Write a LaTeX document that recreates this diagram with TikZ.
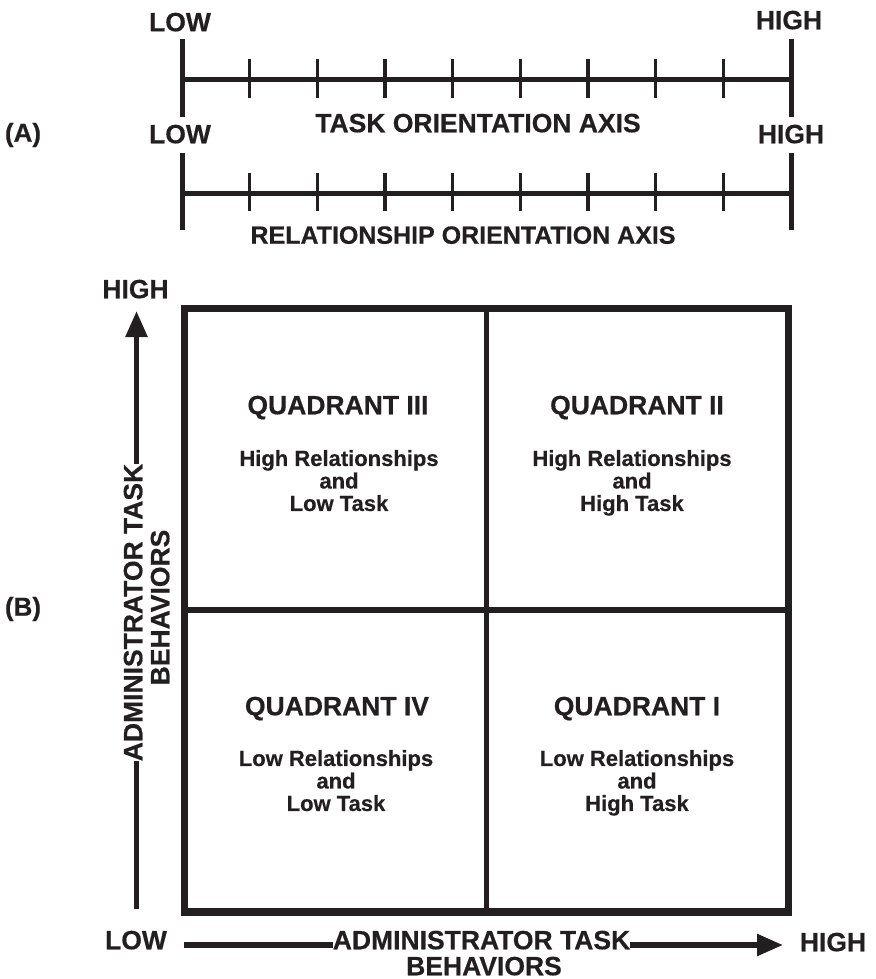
\documentclass[tikz,border=0pt]{standalone}
\usepackage{fontspec}
\setmainfont{Liberation Sans}[BoldFeatures={FakeBold=0.5}]
\usetikzlibrary{arrows.meta}
\definecolor{ink}{HTML}{231F20}
\begin{document}
\begin{tikzpicture}[x=1pt,y=-1pt,
  biglbl/.style={font=\bfseries\fontsize{26.5}{28}\selectfont, text=ink, inner sep=0pt, align=center, text depth=0pt},
  parlbl/.style={font=\bfseries\fontsize{26}{28}\selectfont, text=ink, inner sep=0pt},
  qtext/.style={font=\bfseries\fontsize{22}{22.5}\selectfont, text=ink, inner sep=0pt, align=center, text depth=0pt},
  axisline/.style={draw=ink, line width=5pt},
  tickline/.style={draw=ink, line width=3.5pt},
  frameline/.style={draw=ink, line width=7.5pt},
  divider/.style={draw=ink, line width=5.5pt},
  arrowline/.style={draw=ink, line width=5.5pt},
  headtip/.style={-{Triangle[length=26pt,width=21pt]}}
]
\useasboundingbox (0,0) rectangle (875,979);

% ---------- (A): the two orientation axes ----------
\node[parlbl] (labA) at (23,135) {(A)};

\node[biglbl] (lowA)  at (180,22)  {LOW};
\node[biglbl] (highA) at (789,20)  {HIGH};
\node[biglbl] (lowB)  at (180,134) {LOW};
\node[biglbl] (highB) at (791,134) {HIGH};

% task orientation axis
\draw[axisline] (182,80) -- (791,80);
\draw[axisline] (182,39) -- (182,117);
\draw[axisline] (791,39) -- (791,117);
\foreach \k in {1,...,8}
  \draw[tickline] ({182+\k*67.67},59) -- ({182+\k*67.67},98);
\node[biglbl] (taskaxis) at (478,123) {TASK ORIENTATION AXIS};

% relationship orientation axis
\draw[axisline] (182,193) -- (791,193);
\draw[axisline] (182,153) -- (182,230);
\draw[axisline] (791,153) -- (791,230);
\foreach \k in {1,...,8}
  \draw[tickline] ({182+\k*67.67},173) -- ({182+\k*67.67},211);
\node[biglbl, font=\bfseries\fontsize{25}{26}\selectfont] (relaxis) at (463,235) {RELATIONSHIP ORIENTATION AXIS};

% ---------- (B): the quadrant grid ----------
\node[parlbl] (labB) at (23,609) {(B)};

\draw[frameline] (184.5,308.5) rectangle (788.5,912);
\draw[divider] (486.5,308.5) -- (486.5,912);
\draw[divider] (184.5,610) -- (788.5,610);

\node[biglbl] (q3)  at (338,405) {QUADRANT III};
\node[qtext]  (q3t) at (339,480.5) {High Relationships\\and\\Low Task};
\node[biglbl] (q2)  at (637,405) {QUADRANT II};
\node[qtext]  (q2t) at (632,480.5) {High Relationships\\and\\High Task};
\node[biglbl] (q4)  at (337,706) {QUADRANT IV};
\node[qtext]  (q4t) at (336,780.5) {Low Relationships\\and\\Low Task};
\node[biglbl] (q1)  at (637,706) {QUADRANT I};
\node[qtext]  (q1t) at (637,780.5) {Low Relationships\\and\\High Task};

% vertical axis
\node[biglbl] (highY) at (135.5,289) {HIGH};
\node[biglbl, rotate=90] (yname) at (133,612.5) {ADMINISTRATOR TASK};
\node[biglbl, rotate=90] (ybeh)  at (160,607.5) {BEHAVIORS};
\coordinate (ybot) at (136.5,909);
\coordinate (ytip) at (136.5,311);
\draw[arrowline] (ybot) -- (ybot |- yname.west);
\draw[arrowline, headtip] (ybot |- yname.east) -- (ytip);

% horizontal axis
\node[biglbl] (lowX)  at (136,940) {LOW};
\node[biglbl] (highX) at (833,942) {HIGH};
\node[biglbl] (xname) at (481.5,940) {ADMINISTRATOR TASK};
\node[biglbl] (xbeh)  at (484,966) {BEHAVIORS};
\coordinate (xstart) at (184,945);
\coordinate (xtip)   at (783,945);
\draw[arrowline] (xstart) -- (xstart -| xname.west);
\draw[arrowline, headtip] (xstart -| xname.east) -- (xtip);
\end{tikzpicture}
\end{document}
